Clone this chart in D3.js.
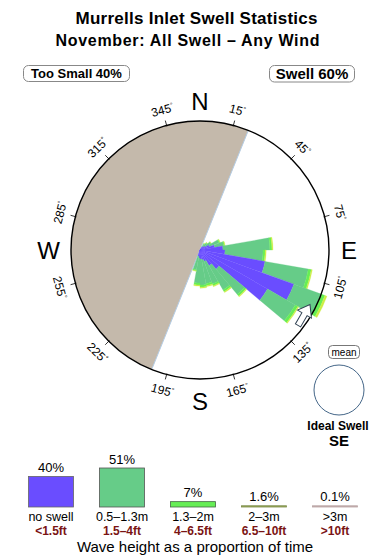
<!DOCTYPE html>
<html>
<head>
<meta charset="utf-8">
<script src="https://cdn.jsdelivr.net/npm/d3@7"></script>
<style>
  body { margin:0; background:#fff; }
  svg { display:block; font-family:"Liberation Sans", Arial, Helvetica, sans-serif; }
</style>
</head>
<body>
<svg id="chart" width="390" height="560"></svg>
<script>
// rose bins: centre bearing of each 10 deg spoke
var dirs    = [35, 45, 55, 65, 75, 85, 95, 105, 115, 125, 135, 145, 155, 165, 175, 185, 195];
// spoke length per wave height band (rose units, 100 = outer ring)
var noSwell = [3.1, 3.9, 4.7, 7.8, 11.6, 17.8, 19.4, 51.2, 77.5, 60.5, 19.4, 14.0, 9.3, 7.8, 7.0, 6.2, 4.7];
var small   = [2.3, 3.1, 4.7, 7.8, 7.0, 36.4, 29.5, 34.1, 22.5, 24.8, 25.6, 21.7, 18.6, 18.6, 20.2, 19.4, 10.9];
var medium  = [0.4, 0.4, 0.4, 0.8, 0.8, 1.6, 1.6, 2.3, 3.1, 2.3, 1.6, 1.6, 1.6, 1.6, 1.6, 1.6, 0.8];
var large   = [0.4, 0.4, 0.4, 0.4, 0.4, 0.8, 0.8, 0.8, 1.6, 0.8, 0.8, 0.8, 0.8, 0.8, 0.8, 0.8, 0.4];

// legend
var bandLabels = ["no swell", "0.5\u20131.3m", "1.3\u20132m", "2\u20133m", ">3m"];
var bandFeet   = ["<1.5ft", "1.5\u20134ft", "4\u20136.5ft", "6.5\u201310ft", ">10ft"];
var bandPct    = [40, 51, 7, 1.6, 0.1];
var bandPctTxt = ["40%", "51%", "7%", "1.6%", "0.1%"];

var degTicks = [15, 45, 75, 105, 135, 165, 195, 225, 255, 285, 315, 345];
var compass  = [{t:"N", b:0}, {t:"E", b:90}, {t:"S", b:180}, {t:"W", b:270}];
var shadowFrom = 202, shadowTo = 382;   // land side, no swell reaches
var idealDir = "SE";

var roseColors   = ["#6a4dff", "#66cc88", "#66ee55", "#ccee44"];
var legendFill   = ["#6a4dff", "#66cc88", "#66ee55", "#a3b35e", "#c8aeae"];
var legendStroke = ["#666", "#555", "#446644", "#7a8a48", "#b8a4a4"];

var svg = d3.select("#chart");
var cx = 200, cy = 250, R = 129;
var rad = function(a){ return a * Math.PI / 180; };

// titles
svg.append("text").attr("x", 196.5).attr("y", 24).attr("text-anchor", "middle")
  .attr("font-size", 17).attr("font-weight", "bold")
  .attr("textLength", 242).attr("lengthAdjust", "spacing")
  .text("Murrells Inlet Swell Statistics");
svg.append("text").attr("x", 187.5).attr("y", 46).attr("text-anchor", "middle")
  .attr("font-size", 16).attr("font-weight", "bold")
  .attr("textLength", 264).attr("lengthAdjust", "spacing")
  .text("November: All Swell \u2013 Any Wind");

// boxes
function labelBox(x, y, w, h, txt, fs) {
  svg.append("rect").attr("x", x).attr("y", y).attr("width", w).attr("height", h)
    .attr("rx", 5).attr("fill", "#fff").attr("stroke", "#888");
  svg.append("text").attr("x", x + w / 2).attr("y", y + h / 2).attr("dy", "0.36em")
    .attr("text-anchor", "middle").attr("font-size", fs).attr("font-weight", "bold").text(txt);
}
labelBox(23.5, 65.5, 106, 16, "Too Small 40%", 13);
labelBox(269.5, 65.5, 85, 16.5, "Swell 60%", 15);

var g = svg.append("g").attr("transform", "translate(" + cx + "," + cy + ")");

// shadow half
g.append("path")
  .attr("d", d3.arc().innerRadius(0).outerRadius(R).startAngle(rad(shadowFrom)).endAngle(rad(shadowTo))())
  .attr("fill", "#c4b9ab");
g.append("line")
  .attr("x1", R * Math.sin(rad(shadowFrom))).attr("y1", -R * Math.cos(rad(shadowFrom)))
  .attr("x2", R * Math.sin(rad(shadowTo))).attr("y2", -R * Math.cos(rad(shadowTo)))
  .attr("stroke", "#b4cce4").attr("stroke-width", 1);

// rose
var rScale = d3.scaleLinear().domain([0, 100]).range([0, R]);
var bands = [noSwell, small, medium, large];
var segs = [];
dirs.forEach(function(d, i) {
  var acc = 0;
  bands.forEach(function(b, k) {
    segs.push({dir: d, band: k, r0: acc, r1: acc + b[i]});
    acc += b[i];
  });
});
var arc = d3.arc()
  .innerRadius(function(s){ return rScale(s.r0); })
  .outerRadius(function(s){ return rScale(s.r1); })
  .startAngle(function(s){ return rad(s.dir - 5); })
  .endAngle(function(s){ return rad(s.dir + 5); });
g.selectAll(".seg").data(segs).enter().append("path")
  .attr("class", "seg")
  .attr("d", arc)
  .attr("fill", function(s){ return roseColors[s.band]; })
  .attr("stroke", function(s){ return roseColors[s.band]; })
  .attr("stroke-width", 0.3);

// ring
g.append("circle").attr("r", R).attr("fill", "none").attr("stroke", "#000").attr("stroke-width", 1.4);

// degree ticks and labels
g.selectAll(".tick").data(degTicks).enter().append("line")
  .attr("x1", function(b){ return (R - 1) * Math.sin(rad(b)); })
  .attr("y1", function(b){ return -(R - 1) * Math.cos(rad(b)); })
  .attr("x2", function(b){ return (R + 5) * Math.sin(rad(b)); })
  .attr("y2", function(b){ return -(R + 5) * Math.cos(rad(b)); })
  .attr("stroke", "#000").attr("stroke-width", 0.8);

var degLab = g.selectAll(".deg").data(degTicks).enter().append("text")
  .attr("font-size", 12).attr("text-anchor", "middle")
  .attr("transform", function(b) {
    var x = 145 * Math.sin(rad(b)), y = -145 * Math.cos(rad(b));
    var rot = (b > 90 && b < 270) ? b - 180 : (b > 180 ? b - 360 : b);
    return "translate(" + x + "," + y + ") rotate(" + rot + ")";
  })
  .attr("dy", "0.36em");
degLab.append("tspan").text(function(b){ return b; });
degLab.append("tspan").attr("font-size", 7).attr("dy", "-0.6em").text("\u00b0");

g.selectAll(".cmp").data(compass).enter().append("text")
  .attr("x", function(c){ return c.b === 90 ? 149 : c.b === 270 ? -151.5 : 0; })
  .attr("y", function(c){ return c.b === 0 ? -140 : c.b === 180 ? 160 : 8.5; })
  .attr("text-anchor", "middle").attr("font-size", 24)
  .text(function(c){ return c.t; });

// ideal swell arrow on the rim
g.append("path")
  .attr("d", "M0,-12 L8,-1 L3,-1 L3,12 L-3,12 L-3,-1 L-8,-1 Z")
  .attr("transform", "translate(104,65) rotate(30)")
  .attr("fill", "#fff").attr("stroke", "#334455").attr("stroke-width", 1);

// mean circle
svg.append("rect").attr("x", 328.5).attr("y", 345.5).attr("width", 31).attr("height", 13)
  .attr("rx", 4).attr("fill", "#fff").attr("stroke", "#777");
svg.append("text").attr("x", 344).attr("y", 352).attr("dy", "0.36em").attr("text-anchor", "middle")
  .attr("font-size", 10).text("mean");
svg.append("circle").attr("cx", 339).attr("cy", 390).attr("r", 25)
  .attr("fill", "#fff").attr("stroke", "#446688").attr("stroke-width", 1);
svg.append("text").attr("x", 338).attr("y", 430).attr("text-anchor", "middle")
  .attr("font-size", 12).attr("font-weight", "bold").text("Ideal Swell");
svg.append("text").attr("x", 339).attr("y", 446).attr("text-anchor", "middle")
  .attr("font-size", 15).attr("font-weight", "bold").text(idealDir);

// legend bars
var colX = d3.scalePoint().domain(d3.range(bandPct.length)).range([51, 335]);
var hScale = d3.scaleLinear().domain([0, 51]).range([0, 39]);
var base = 507;
var leg = svg.selectAll(".leg").data(bandPct).enter().append("g");
leg.append("rect")
  .attr("x", function(p, i){ return colX(i) - 22.5; })
  .attr("width", 45)
  .attr("y", function(p){ return base - Math.max(hScale(p), 1.2); })
  .attr("height", function(p){ return Math.max(hScale(p), 1.2); })
  .attr("fill", function(p, i){ return legendFill[i]; })
  .attr("stroke", function(p, i){ return legendStroke[i]; })
  .attr("stroke-width", 0.8);
leg.append("text")
  .attr("x", function(p, i){ return colX(i); })
  .attr("y", function(p){ return base - Math.max(hScale(p), 1.2) - 4.5; })
  .attr("text-anchor", "middle").attr("font-size", 13)
  .text(function(p, i){ return bandPctTxt[i]; });
leg.append("text")
  .attr("x", function(p, i){ return colX(i); })
  .attr("y", 521).attr("text-anchor", "middle").attr("font-size", 12.5)
  .text(function(p, i){ return bandLabels[i]; });
leg.append("text")
  .attr("x", function(p, i){ return colX(i); })
  .attr("y", 534.5).attr("text-anchor", "middle").attr("font-size", 12).attr("font-weight", "bold")
  .attr("fill", "#7a1414")
  .text(function(p, i){ return bandFeet[i]; });

svg.append("text").attr("x", 195).attr("y", 551.5).attr("text-anchor", "middle")
  .attr("font-size", 15).text("Wave height as a proportion of time");
</script>
</body>
</html>
